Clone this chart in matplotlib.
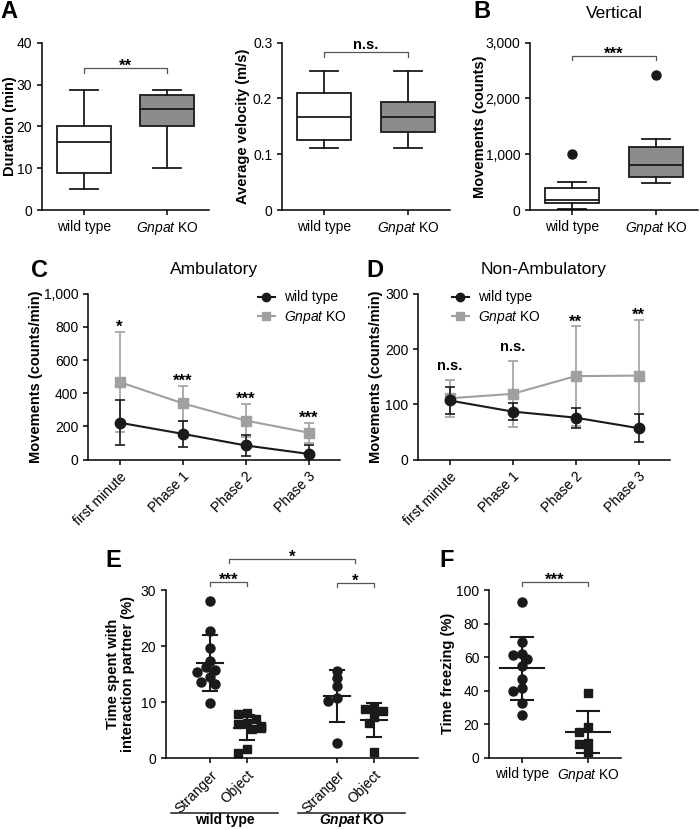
import matplotlib
matplotlib.use("Agg")
import matplotlib.pyplot as plt
import numpy as np
from matplotlib.ticker import FuncFormatter
from matplotlib.lines import Line2D

plt.rcParams['font.family'] = ['Liberation Sans', 'DejaVu Sans']
plt.rcParams['mathtext.fontset'] = 'custom'
plt.rcParams['mathtext.rm'] = 'Liberation Sans'
plt.rcParams['mathtext.it'] = 'Liberation Sans:italic'
plt.rcParams['mathtext.bf'] = 'Liberation Sans:bold'
plt.rcParams['mathtext.bfit'] = 'Liberation Sans:bold:italic'
plt.rcParams['axes.linewidth'] = 1.1
plt.rcParams['xtick.major.width'] = 1.1
plt.rcParams['ytick.major.width'] = 1.1
plt.rcParams['xtick.major.size'] = 3.5
plt.rcParams['ytick.major.size'] = 3.5
plt.rcParams['xtick.labelsize'] = 10
plt.rcParams['ytick.labelsize'] = 10

# ---- data ----
groups = ["wild type", r"$\mathit{Gnpat}$ KO"]

# box stats: low whisker, q1, median, q3, high whisker
duration_wt = [5.0, 8.8, 16.2, 20.1, 28.8]
duration_ko = [10.1, 20.2, 24.1, 27.5, 28.8]
velocity_wt = [0.111, 0.126, 0.167, 0.209, 0.250]
velocity_ko = [0.111, 0.139, 0.167, 0.194, 0.250]
vertical_wt = [10, 120, 180, 400, 500]
vertical_ko = [490, 590, 800, 1135, 1270]
vertical_out_wt = [1010]
vertical_out_ko = [2420]

phases = ["first minute", "Phase 1", "Phase 2", "Phase 3"]
amb_wt_mean = [223, 156, 86, 35]
amb_wt_sd = [135, 78, 64, 52]
amb_ko_mean = [468, 340, 236, 163]
amb_ko_sd = [300, 105, 100, 60]
amb_sig = ["*", "***", "***", "***"]

nonamb_wt_mean = [107, 87, 76, 57]
nonamb_wt_sd = [25, 16, 18, 25]
nonamb_ko_mean = [111, 119, 151, 152]
nonamb_ko_sd = [33, 60, 90, 101]
nonamb_sig = ["n.s.", "n.s.", "**", "**"]

social_labels = ["Stranger", "Object", "Stranger", "Object"]
social_wt_stranger = [28.1, 22.6, 19.6, 17.4, 16.2, 15.7, 15.4, 14.4, 13.6, 13.2, 9.8]
social_wt_object = [8.0, 7.8, 7.0, 6.3, 6.0, 5.8, 5.6, 5.4, 5.2, 1.6, 0.9]
social_ko_stranger = [15.6, 14.2, 12.9, 10.8, 10.1, 2.7]
social_ko_object = [8.9, 8.8, 8.4, 7.4, 6.2, 1.0]

freezing_wt = [92.7, 68.8, 62.1, 61.3, 58.7, 54.9, 46.9, 41.8, 39.6, 32.8, 25.6]
freezing_ko = [38.8, 18.1, 15.5, 8.6, 8.0, 3.2]

DARK = '#1a1a1a'
KO_BOX = '#8c8c8c'
KO_LINE = '#a0a0a0'
LABEL_FS = 10.5
STAR_FS = 12

W, H = 700, 830
fig = plt.figure(figsize=(W / 100, H / 100), dpi=100)


def px_axes(x0, x1, y0, y1):
    # axes from pixel box (left, right, top, bottom)
    ax = fig.add_axes([x0 / W, 1 - y1 / H, (x1 - x0) / W, (y1 - y0) / H])
    ax.spines['top'].set_visible(False)
    ax.spines['right'].set_visible(False)
    return ax


def ylabel_at(ax, text, right_px, x0_px, width_px, **kw):
    # place the y label so its right edge sits at right_px
    ax.set_ylabel(text, fontsize=LABEL_FS, fontweight='bold', **kw)
    ax.yaxis.set_label_coords((right_px - x0_px) / width_px, 0.5)


def box_stats(vals, fliers=()):
    lo, q1, med, q3, hi = vals
    return dict(whislo=lo, q1=q1, med=med, q3=q3, whishi=hi, fliers=list(fliers))


def draw_boxes(ax, stats):
    ax.bxp(stats, positions=[1, 2], widths=0.65, patch_artist=True,
           capwidths=0.33,
           boxprops=dict(edgecolor=DARK, linewidth=1.3),
           medianprops=dict(color=DARK, linewidth=1.3),
           whiskerprops=dict(color=DARK, linewidth=1.3),
           capprops=dict(color=DARK, linewidth=1.3),
           flierprops=dict(marker='o', markerfacecolor=DARK,
                           markeredgecolor=DARK, markersize=6.5))
    for patch, fc in zip(ax.patches, ['white', KO_BOX]):
        patch.set_facecolor(fc)
    ax.set_xlim(0.5, 2.5)
    ax.set_xticks([1, 2])
    ax.set_xticklabels(groups)


def bracket(ax, x1, x2, y, h, label, dy=0.0):
    ax.plot([x1, x1, x2, x2], [y - h, y, y, y - h], color='#555555',
            lw=0.9, clip_on=False)
    ns = label == "n.s."
    ax.annotate(label, ((x1 + x2) / 2, y), xytext=(0, dy),
                textcoords='offset points', ha='center', va='baseline',
                fontsize=10.5 if ns else STAR_FS, fontweight='bold',
                annotation_clip=False)


def thousands(v, pos):
    return f"{int(v):,}"


def plain(v, pos):
    return "0" if v == 0 else f"{v:g}"


# ---- A: duration ----
ax = px_axes(42, 209, 42.7, 210)
draw_boxes(ax, [box_stats(duration_wt), box_stats(duration_ko)])
ax.set_ylim(0, 40)
ax.set_yticks([0, 10, 20, 30, 40])
ylabel_at(ax, "Duration (min)", 17, 42, 167)
bracket(ax, 1, 2, 34, 1.2, "**", dy=-2)

# ---- A: velocity ----
ax = px_axes(282, 450, 42.7, 210)
draw_boxes(ax, [box_stats(velocity_wt), box_stats(velocity_ko)])
ax.set_ylim(0, 0.3)
ax.set_yticks([0, 0.1, 0.2, 0.3])
ax.yaxis.set_major_formatter(FuncFormatter(plain))
ylabel_at(ax, "Average velocity (m/s)", 250, 282, 168)
bracket(ax, 1, 2, 0.2833, 0.009, "n.s.", dy=2)

# ---- B: vertical ----
ax = px_axes(530, 698, 42.7, 210)
draw_boxes(ax, [box_stats(vertical_wt, vertical_out_wt),
                box_stats(vertical_ko, vertical_out_ko)])
ax.set_ylim(0, 3000)
ax.set_yticks([0, 1000, 2000, 3000])
ax.yaxis.set_major_formatter(FuncFormatter(thousands))
ylabel_at(ax, "Movements (counts)", 487, 530, 168)
ax.set_title("Vertical", fontsize=12.5, pad=18)
bracket(ax, 1, 2, 2761, 70, "***", dy=-2)


# ---- C / D: time courses ----
def time_course(ax, wt_m, wt_s, ko_m, ko_s, sig, ymax, step, fmt):
    x = np.arange(len(phases))
    ax.errorbar(x, ko_m, yerr=ko_s, color=KO_LINE, marker='s', markersize=7,
                lw=1.5, capsize=3.5, elinewidth=1.2, capthick=1.2, zorder=2)
    ax.errorbar(x, wt_m, yerr=wt_s, color=DARK, marker='o', markersize=7.5,
                lw=1.5, capsize=3.5, elinewidth=1.2, capthick=1.2, zorder=3)
    ax.set_xlim(-0.5, 3.5)
    ax.set_ylim(0, ymax)
    ax.set_yticks(np.arange(0, ymax + 1, step))
    ax.yaxis.set_major_formatter(FuncFormatter(fmt))
    ax.set_xticks(x)
    ax.set_xticklabels(phases, rotation=45, ha='right', rotation_mode='anchor')
    tops = np.maximum(np.array(ko_m) + np.array(ko_s), np.array(wt_m) + np.array(wt_s))
    for xi, t, s in zip(x, tops, sig):
        ns = s == "n.s."
        ax.annotate(s, (xi, t), xytext=(0, 7 if ns else 0),
                    textcoords='offset points', ha='center', va='baseline',
                    fontsize=10.5 if ns else STAR_FS, fontweight='bold')
    handles = [Line2D([], [], color=DARK, marker='o', markersize=6, lw=1.5),
               Line2D([], [], color=KO_LINE, marker='s', markersize=5.5, lw=1.5)]
    return handles, ["wild type", r"$\mathit{Gnpat}$ KO"]


legend_kw = dict(loc='upper left', frameon=False, fontsize=10,
                 handlelength=1.2, handletextpad=0.7, labelspacing=0.35,
                 borderaxespad=0, borderpad=0)

ax = px_axes(88, 340, 293.7, 459.7)
h, l = time_course(ax, amb_wt_mean, amb_wt_sd, amb_ko_mean, amb_ko_sd,
                   amb_sig, 1000, 200, thousands)
ylabel_at(ax, "Movements (counts/min)", 43, 88, 252)
ax.set_title("Ambulatory", fontsize=12.5, pad=14)
ax.legend(h, l, bbox_to_anchor=((258 - 88) / 252, 1.02), **legend_kw)

ax = px_axes(418, 670, 293.7, 459.7)
h, l = time_course(ax, nonamb_wt_mean, nonamb_wt_sd, nonamb_ko_mean, nonamb_ko_sd,
                   nonamb_sig, 300, 100, thousands)
ylabel_at(ax, "Movements (counts/min)", 383, 418, 252)
ax.set_title("Non-Ambulatory", fontsize=12.5, pad=14)
ax.legend(h, l, bbox_to_anchor=((452 - 418) / 252, 1.02), **legend_kw)


# ---- E / F: scatter with mean +/- SD ----
def swarm_offsets(ax, values, diam_px):
    bbox = ax.get_window_extent()
    x0, x1 = ax.get_xlim()
    y0, y1 = ax.get_ylim()
    sx = bbox.width / (x1 - x0)
    sy = bbox.height / (y1 - y0)
    placed = []
    offs = np.zeros(len(values))
    for i in np.argsort(values)[::-1]:
        y = values[i] * sy
        for k in [0, -1, 1, -2, 2, -3, 3]:
            cand = k * diam_px * 0.5
            if all((cand - px) ** 2 + (y - py) ** 2 >= (0.8 * diam_px) ** 2
                   for px, py in placed):
                break
        placed.append((cand, y))
        offs[i] = cand / sx
    return offs


def dot_group(ax, pos, vals, marker, mean_half, cap_half):
    vals = np.asarray(vals)
    offs = swarm_offsets(ax, vals, 9.0)
    ax.plot(pos + offs, vals, linestyle='none', marker=marker, color=DARK,
            markersize=6.5 if marker == 'o' else 6, zorder=2, clip_on=False)
    m, s = vals.mean(), vals.std(ddof=1)
    ax.plot([pos - mean_half, pos + mean_half], [m, m], color=DARK, lw=1.5, zorder=3)
    ax.plot([pos, pos], [m - s, m + s], color=DARK, lw=1.5, zorder=3)
    for yy in (m - s, m + s):
        ax.plot([pos - cap_half, pos + cap_half], [yy, yy], color=DARK, lw=1.5, zorder=3)


ax = px_axes(166, 418, 590, 758)
pos_e = [1, 2, 4.43, 5.43]
ax.set_xlim(-0.19, 6.62)
ax.set_ylim(0, 30)
ax.set_yticks([0, 10, 20, 30])
ax.set_xticks(pos_e)
ax.set_xticklabels(social_labels, rotation=45, ha='right', rotation_mode='anchor')
for p, v, mk in zip(pos_e, [social_wt_stranger, social_wt_object,
                            social_ko_stranger, social_ko_object], ['o', 's', 'o', 's']):
    dot_group(ax, p, v, mk, 0.34, 0.19)
ylabel_at(ax, "Time spent with\ninteraction partner (%)", 135, 166, 252,
          linespacing=1.05)
bracket(ax, pos_e[0], pos_e[1], 31.4, 0.7, "***", dy=-2)
bracket(ax, pos_e[2], pos_e[3], 31.25, 0.7, "*", dy=-2)
bracket(ax, (pos_e[0] + pos_e[1]) / 2, (pos_e[2] + pos_e[3]) / 2, 35.5, 0.7, "*", dy=-2)
tr = ax.get_xaxis_transform()
for a, b, name in [(pos_e[0], pos_e[1], "wild type"),
                   (pos_e[2], pos_e[3], r"$\mathbfit{Gnpat}$ KO")]:
    ax.plot([a - 1.05, b + 0.85], [-0.328, -0.328], color=DARK, lw=1.1,
            transform=tr, clip_on=False)
    ax.text((a + b) / 2 - 0.1, -0.372, name, transform=tr, ha='center',
            va='center', fontsize=10, fontweight='bold')

ax = px_axes(489, 621, 590, 757.7)
ax.set_xlim(0.5, 2.5)
ax.set_ylim(0, 100)
ax.set_yticks([0, 20, 40, 60, 80, 100])
ax.set_xticks([1, 2])
ax.set_xticklabels(groups)
dot_group(ax, 1, freezing_wt, 'o', 0.33, 0.17)
dot_group(ax, 2, freezing_ko, 's', 0.33, 0.17)
ylabel_at(ax, "Time freezing (%)", 455, 489, 132)
bracket(ax, 1, 2, 104.8, 2.4, "***", dy=-2)

# panel letters
for letter, x, y in [("A", 0, 0), ("B", 473, 0), ("C", 31, 259),
                     ("D", 366, 259), ("E", 105, 549), ("F", 439, 549)]:
    fig.text(x / W, 1 - y / H, letter, fontsize=17, fontweight='bold',
             ha='left', va='top')

fig.savefig("out.png", dpi=100, facecolor='white')
